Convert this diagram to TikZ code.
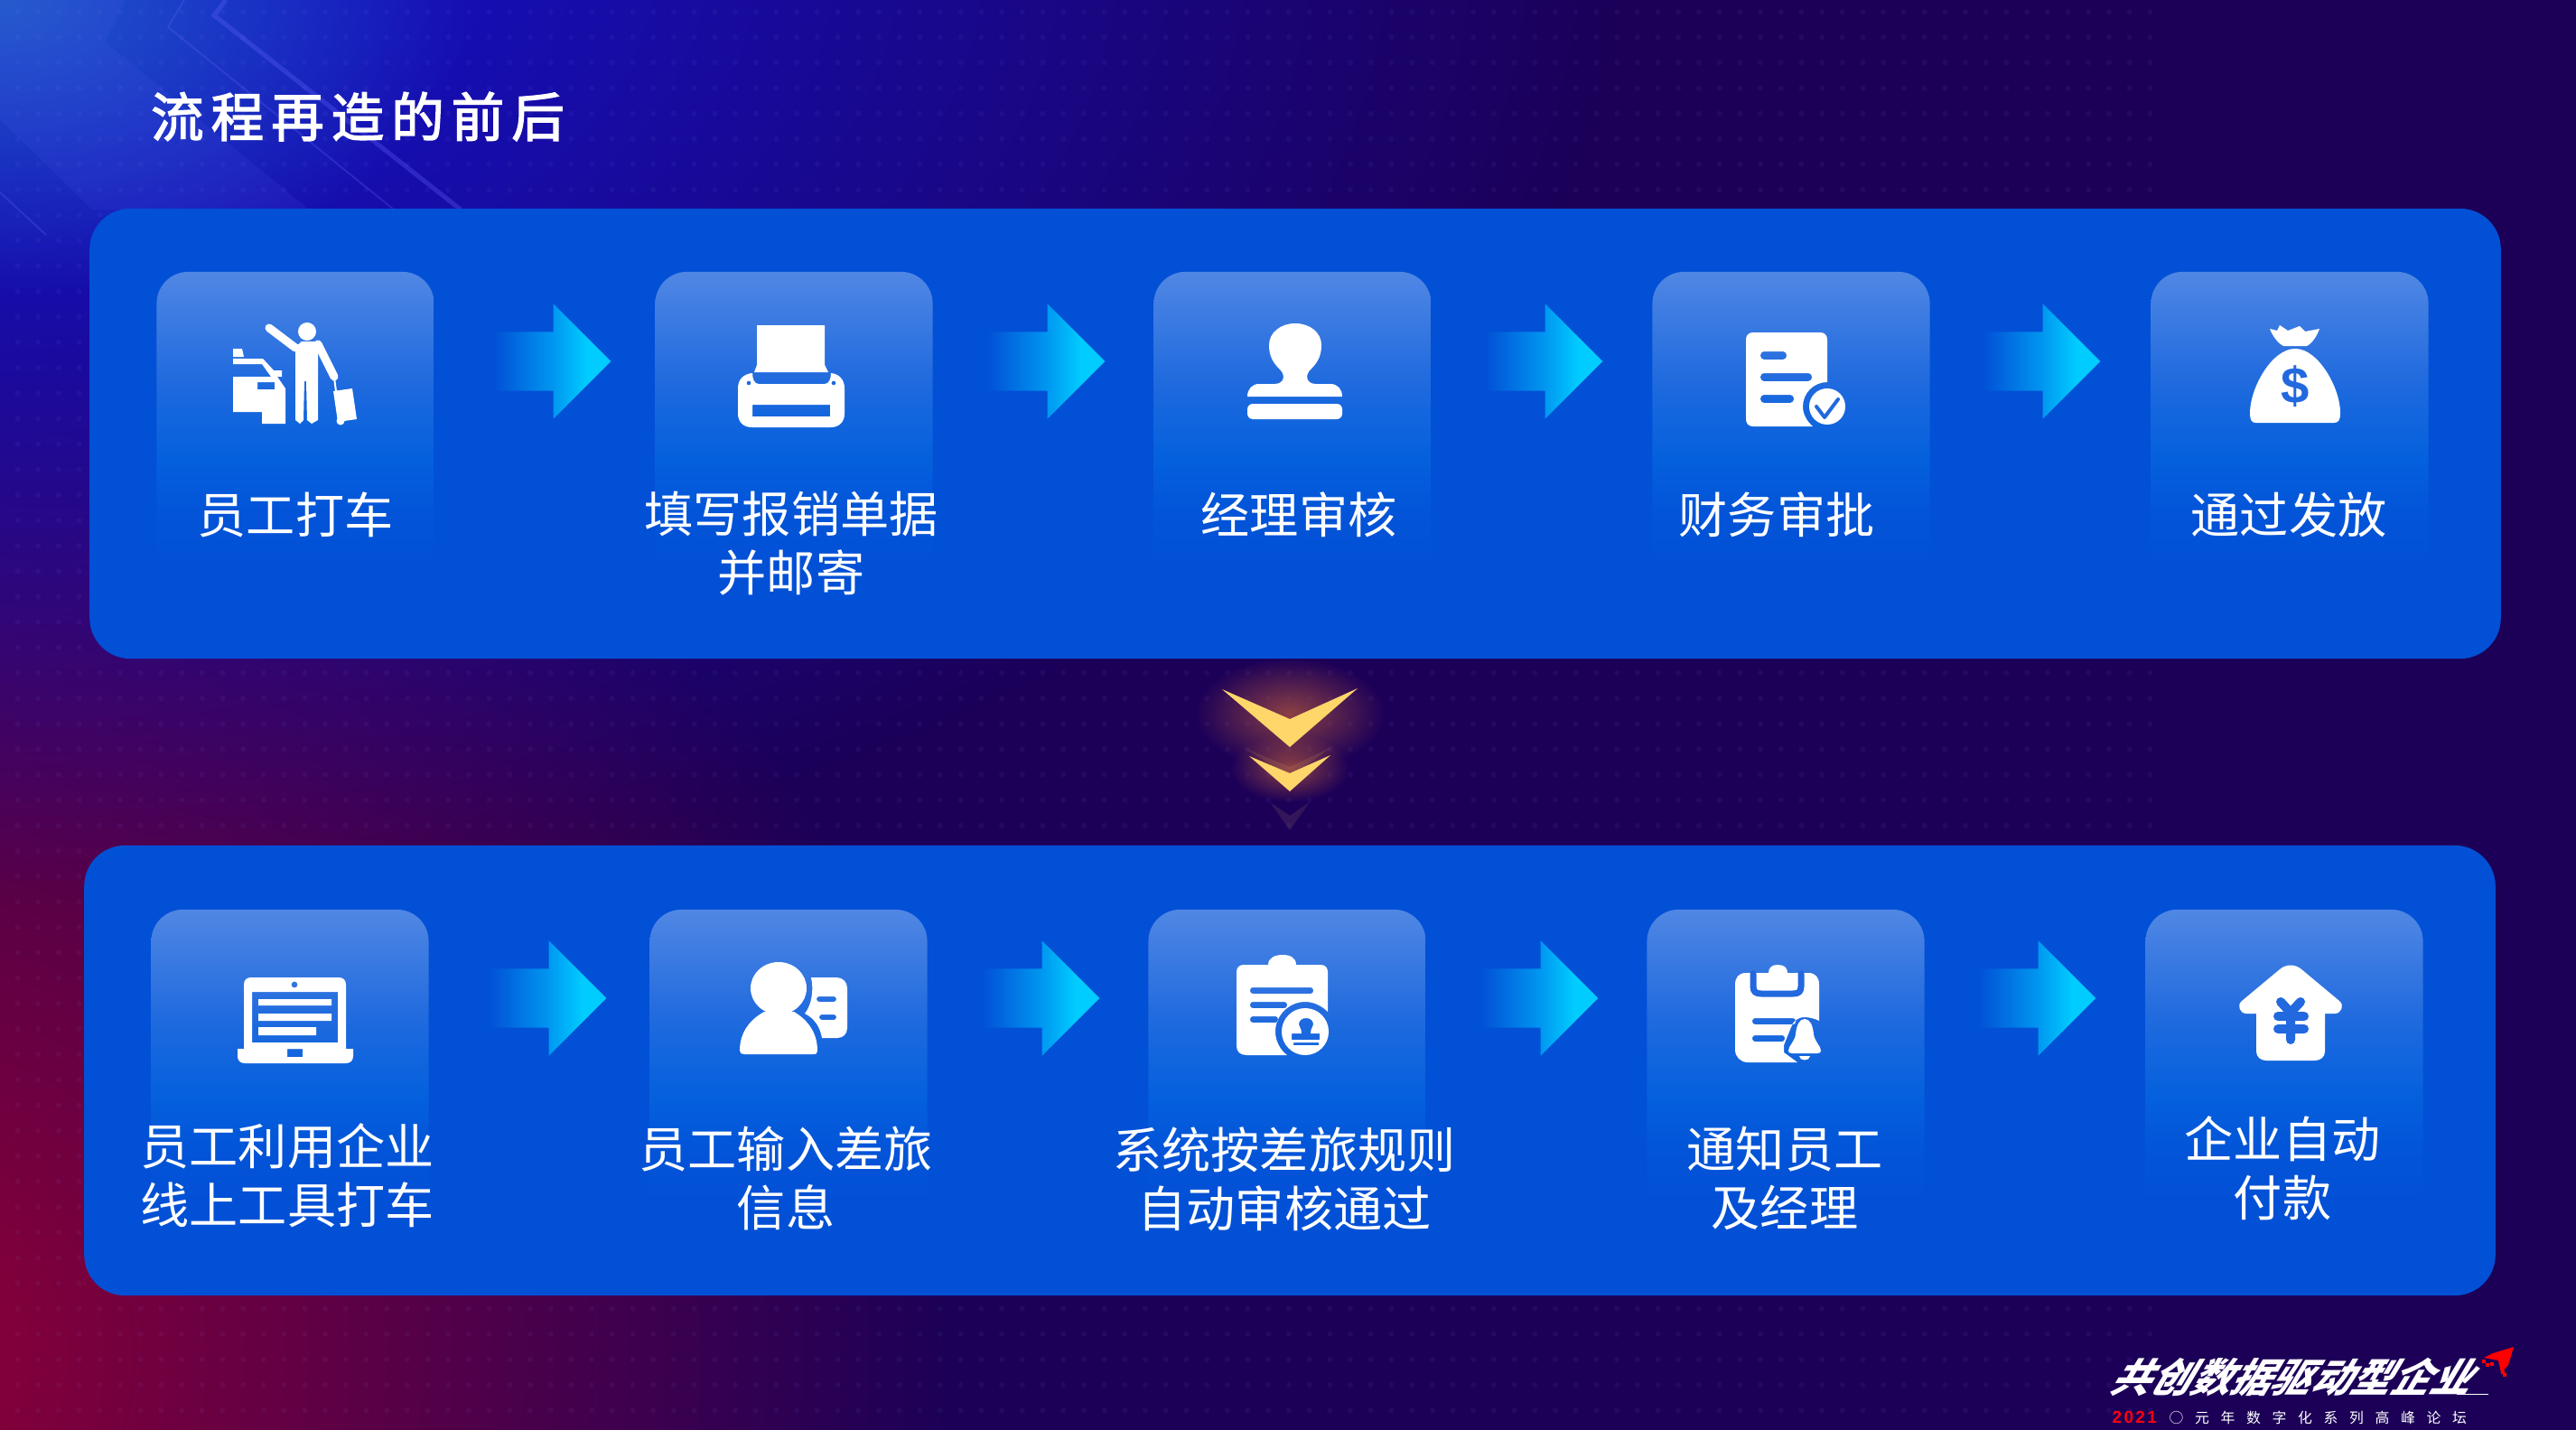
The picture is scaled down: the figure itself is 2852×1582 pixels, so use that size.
\documentclass[tikz,border=0pt]{standalone}
\usepackage{fontspec}
\usepackage{xcolor}
\usepackage{tikz}
\usetikzlibrary{shapes.arrows,fadings,positioning}
\setmainfont{Noto Sans CJK SC}
\newfontfamily\titlefont[LetterSpace=14,FakeBold=2.5]{Noto Sans CJK SC}
\newfontfamily\forumfont[LetterSpace=80]{Noto Sans CJK SC}
\newfontfamily\yearfont[LetterSpace=12]{Liberation Sans}

\definecolor{basepurple}{HTML}{1C0058}
\definecolor{glowred}{HTML}{8C0038}
\definecolor{glowblue}{HTML}{1414D7}
\definecolor{glowlight}{HTML}{205AC8}
\definecolor{glowamber}{HTML}{A85040}
\definecolor{yearred}{HTML}{FF0010}
\definecolor{panelblue}{HTML}{0250D6}
\definecolor{holeblue}{HTML}{2268DE}
\definecolor{cardtop}{HTML}{5087E4}
\definecolor{cardmid}{HTML}{1F6ADE}
\definecolor{cardlow}{HTML}{0460DD}
\definecolor{cardend}{HTML}{0354D8}
\definecolor{arrowmid}{HTML}{0096F0}
\definecolor{arrowcyan}{HTML}{00CCFF}
\definecolor{chevronyellow}{HTML}{FFD66A}

\pgfdeclareverticalshading{cardshade}{100bp}{color(0bp)=(panelblue); color(25bp)=(panelblue); color(30bp)=(panelblue); color(38bp)=(cardend); color(46bp)=(cardlow); color(58bp)=(cardmid); color(75bp)=(cardtop); color(100bp)=(cardtop)}
\pgfdeclarehorizontalshading{arrowshade}{100bp}{color(0bp)=(panelblue); color(25bp)=(panelblue); color(50bp)=(arrowmid); color(65bp)=(arrowcyan); color(75bp)=(arrowcyan); color(100bp)=(arrowcyan)}
\tikzfading[name=softblob,inner color=transparent!0,outer color=transparent!100]

\begin{document}
\begin{tikzpicture}[
		x = 0.01cm, y = -0.01cm,
		panel/.style = {rounded corners=.45cm, fill=panelblue, inner sep=0pt, minimum width=26.68cm, minimum height=4.98cm},
		card/.style = {rounded corners=.35cm, shade, shading=cardshade, inner sep=0pt, minimum width=3.07cm, minimum height=3.6cm},
		flowarrow/.style = {single arrow, shade, shading=arrowshade, inner xsep=0pt, inner ysep=.32cm, minimum height=1.3cm, single arrow head extend=.31cm},
		steptext/.style = {text=white, align=center, inner sep=0pt, font=\fontsize{15.4}{18.5}\selectfont},
		icon/.style = {fill=white, even odd rule},
		iconhole/.style = {draw=holeblue, line cap=round, line join=round},
		chevron/.style = {fill=chevronyellow},
		glow/.style = {fill=#1, path fading=softblob},
		griddot/.style = {fill=blue!40!white, opacity=.06},
	]

	\useasboundingbox (0,0) rectangle (2852,1582);

	% background
	\begin{scope}
		\clip (-10,-10) rectangle (2862,1592);
		\fill[basepurple] (-10,-10) rectangle (2862,1592);
		\fill[glow=glowred] (-100,1500) ellipse [x radius=1150,y radius=1200];
		\fill[glow=glowblue] (0,-50) ellipse [x radius=1800,y radius=1050];
		\fill[glow=glowlight] (0,0) ellipse [x radius=520,y radius=330];
		\fill[blue!60!white,opacity=.10] (0,0) -- (138,0) -- (117,47) -- (342,232) -- (102,232) -- (0,132) -- cycle;
		\draw[blue!60!white,opacity=.30,line width=.05cm] (250,0) -- (237,17) -- (510,232);
		\draw[blue!60!white,opacity=.25,line width=.02cm] (204,0) -- (186,30) -- (436,232);
		\draw[blue!60!white,opacity=.25,line width=.02cm] (0,213) -- (51,260);
		\foreach \r in {0,...,8,26,27,...,32,51,52,...,55}
			\fill[griddot] \foreach \c in {0,...,104} {(\c*22.7+19.5,\r*28.15+13) circle [radius=.03cm]};
		\foreach \r in {9,...,25,33,34,...,50}
			\fill[griddot] \foreach \c in {0,...,3} {(\c*22.7+19.5,\r*28.15+13) circle [radius=.03cm]};
	\end{scope}

	% title
	\node[text=white,inner sep=0pt,font=\titlefont\fontsize{16.6}{20}\selectfont] (title) at (396,129) {流程再造的前后};

	% panels, cards, arrows
	\node[panel] (panelA) at (1434,480) {};
	\node[panel] (panelB) at (1428,1185) {};

	\foreach \i/\x in {1/327,2/879,3/1431,4/1983,5/2535}
		\node[card] (cardA\i) at (\x,481) {};
	\foreach \i/\x in {1/321,2/873,3/1425,4/1977,5/2529}
		\node[card] (cardB\i) at (\x,1187) {};

	\foreach \i/\x in {1/595,2/1142,3/1693,4/2244}
		\node[flowarrow] (arrowA\i) at (\x,400) {};
	\foreach \i/\x in {1/590,2/1136,3/1688,4/2239}
		\node[flowarrow] (arrowB\i) at (\x,1105) {};

	% taxi
	\fill[icon] (340,367) circle [radius=.1cm];
	\fill[icon] (327,384) -- (334,378) -- (352,378) -- (352,465) -- (345,469) -- (340,465) -- (339,422) -- (337,422) -- (336,465) -- (332,469) -- (327,465) -- cycle;
	\draw[white,line width=.09cm,line cap=round] (298,363) -- (327,385);
	\draw[white,line width=.09cm,line cap=round] (352,381) -- (370,417);
	\draw[white,line width=.02cm] (370,418) -- (372,433);
	\fill[icon] (369,433) -- (390,430) -- (395,464) -- (374,467) -- cycle;
	\fill[icon] (377,466) circle [radius=.045cm];
	\fill[icon] (258,386) -- (268,386) -- (270,395) -- (258,395) -- cycle;
	\fill[icon] (258,397) -- (291,397) -- (303,410) -- (312,410) -- (312,417) -- (300,417) -- (290,403) -- (258,403) -- cycle;
	\fill[icon] (258,417) -- (307,417) -- (316,430) -- (316,469) -- (290,469) -- (290,456) -- (258,456) -- cycle (285,423) rectangle (304,431);

	% printer
	\fill[icon] (838,360) -- (913,360) -- (913,404) -- (917,412) -- (835,412) -- (838,404) -- cycle;
	\fill[icon] (833,413) .. controls (833,419) and (835,425) .. (840,425) -- (913,425) .. controls (918,425) and (920,419) .. (920,413) .. controls (929,414) and (935,420) .. (935,430) -- (935,458) .. controls (935,467) and (929,473) .. (920,473) -- (832,473) .. controls (823,473) and (817,467) .. (817,458) -- (817,430) .. controls (817,420) and (823,414) .. (833,413) -- cycle
		(833,448) rectangle (919,461) (829,424) circle [radius=.025cm] (923,424) circle [radius=.025cm];

	% stamp
	\fill[icon] (1381,439) .. controls (1381,431) and (1386,425) .. (1394,425) -- (1411,425) .. controls (1422,425) and (1424,415) .. (1416,408) .. controls (1408,400) and (1405,392) .. (1405,382) .. controls (1405,368) and (1418,358) .. (1434,358) .. controls (1450,358) and (1463,368) .. (1463,382) .. controls (1463,392) and (1460,400) .. (1452,408) .. controls (1444,415) and (1446,425) .. (1457,425) -- (1473,425) .. controls (1481,425) and (1486,431) .. (1486,439) -- cycle;
	\fill[icon,rounded corners=.06cm] (1381,447) rectangle (1486,464);

	% report with tick
	\fill[icon] (1941,368) -- (2015,368) .. controls (2020,368) and (2023,371) .. (2023,376) -- (2023,423) .. controls (2008,423) and (1996,435) .. (1996,450) .. controls (1996,458) and (2000,466) .. (2007,472) -- (1941,472) .. controls (1936,472) and (1933,469) .. (1933,464) -- (1933,376) .. controls (1933,371) and (1936,368) .. (1941,368) -- cycle
		[rounded corners=.04cm] (1949,389) rectangle (1978,398) (1949,413) rectangle (2006,422) (1949,437) rectangle (1986,446);
	\fill[icon] (2023,450) circle [radius=.2cm];
	\draw[iconhole,line width=.04cm] (2011,450) -- (2020,462) -- (2035,442);

	% money bag
	\fill[icon] (2513,364) -- (2521,366) -- (2524,360) -- (2533,366) -- (2546,361) -- (2552,367) -- (2568,364) .. controls (2565,372) and (2560,380) .. (2554,383) -- (2528,383) .. controls (2522,380) and (2516,372) .. (2513,364) -- cycle;
	\fill[icon] (2541,386) .. controls (2515,386) and (2491,430) .. (2491,457) .. controls (2491,465) and (2493,468) .. (2497,468) -- (2584,468) .. controls (2589,468) and (2591,465) .. (2591,457) .. controls (2591,430) and (2567,386) .. (2541,386) -- cycle;
	\node[text=holeblue,inner sep=0pt,font=\yearfont\bfseries\fontsize{16}{16}\selectfont] (dollar) at (2541,428) {\$};

	% laptop
	\fill[icon] (278,1082) -- (375,1082) .. controls (380,1082) and (383,1085) .. (383,1090) -- (383,1161) -- (270,1161) -- (270,1090) .. controls (270,1085) and (273,1082) .. (278,1082) -- cycle
		(326,1090) circle [radius=.035cm] (279,1098) rectangle (374,1154);
	\fill[icon] (286,1106) rectangle (367,1113) (286,1122) rectangle (367,1130) (286,1137) rectangle (350,1146);
	\fill[icon] (263,1161) -- (391,1161) -- (391,1169) .. controls (391,1174) and (388,1177) .. (383,1177) -- (271,1177) .. controls (266,1177) and (263,1174) .. (263,1169) -- cycle (318,1161) rectangle (335,1170);

	% person with card
	\fill[icon] (862,1094) ellipse [x radius=31,y radius=29];
	\fill[icon] (846,1120) .. controls (828,1130) and (819,1145) .. (819,1163) .. controls (819,1166) and (821,1167) .. (824,1167) -- (900,1167) .. controls (904,1167) and (905,1166) .. (905,1163) .. controls (905,1145) and (896,1130) .. (879,1120) -- cycle;
	\fill[icon] (898,1082) -- (926,1082) .. controls (933,1082) and (938,1087) .. (938,1094) -- (938,1138) .. controls (938,1145) and (933,1149) .. (927,1149) -- (910,1149) .. controls (908,1138) and (903,1128) .. (891,1122) .. controls (899,1112) and (901,1095) .. (898,1082) -- cycle
		[rounded corners=.03cm] (904,1103) rectangle (926,1109) (907,1123) rectangle (926,1129);

	% clipboard with stamp
	\fill[icon] (1470,1120) .. controls (1463,1113) and (1454,1109) .. (1445,1109) .. controls (1427,1109) and (1412,1124) .. (1412,1142) .. controls (1412,1152) and (1417,1162) .. (1425,1168) -- (1380,1168) .. controls (1373,1168) and (1369,1164) .. (1369,1158) -- (1369,1076) .. controls (1369,1071) and (1372,1068) .. (1377,1068) -- (1404,1068) .. controls (1404,1060) and (1412,1057) .. (1420,1057) .. controls (1428,1057) and (1435,1060) .. (1435,1068) -- (1462,1068) .. controls (1467,1068) and (1470,1071) .. (1470,1076) -- cycle
		[rounded corners=.03cm] (1384,1093) rectangle (1454,1100) (1384,1109) rectangle (1425,1116) (1384,1125) rectangle (1415,1132);
	\fill[icon] (1445,1142) circle [radius=.26cm]
		(1446,1127) .. controls (1441,1127) and (1438,1130) .. (1438,1134) .. controls (1438,1137) and (1441,1138) .. (1441,1144) -- (1430,1144) -- (1430,1151) -- (1461,1151) -- (1461,1144) -- (1451,1144) .. controls (1451,1138) and (1454,1137) .. (1454,1134) .. controls (1454,1130) and (1451,1127) .. (1446,1127) -- cycle
		(1432,1154) rectangle (1460,1157);

	% clipboard with bell
	\fill[icon] (2014,1130) .. controls (2010,1128) and (2004,1126) .. (1998,1126) .. controls (1990,1126) and (1985,1131) .. (1983,1137) -- (1975,1157) -- (1975,1165) -- (1990,1176) -- (1935,1176) .. controls (1927,1176) and (1921,1170) .. (1921,1162) -- (1921,1090) .. controls (1921,1082) and (1925,1077) .. (1933,1077) -- (1958,1077) .. controls (1958,1071) and (1962,1068) .. (1968,1068) .. controls (1975,1068) and (1979,1071) .. (1979,1077) -- (2002,1077) .. controls (2010,1077) and (2014,1082) .. (2014,1090) -- cycle
		[rounded corners=.03cm] (1940,1127) rectangle (1988,1134) (1940,1146) rectangle (1976,1153);
	\draw[iconhole,line width=.07cm] (1941,1078) -- (1941,1092) .. controls (1941,1098) and (1944,1100) .. (1950,1100) -- (1985,1100) .. controls (1991,1100) and (1994,1098) .. (1994,1092) -- (1994,1078);
	\fill[icon] (1998,1128) .. controls (2004,1128) and (2007,1135) .. (2008,1145) .. controls (2009,1153) and (2016,1158) .. (2016,1163) .. controls (2016,1165) and (2015,1166) .. (2012,1166) -- (1984,1166) .. controls (1981,1166) and (1980,1165) .. (1980,1163) .. controls (1980,1158) and (1987,1153) .. (1988,1145) .. controls (1989,1135) and (1992,1128) .. (1998,1128) -- cycle;
	\fill[icon] (1992,1169) .. controls (1992,1175) and (2004,1175) .. (2004,1169) -- cycle;

	% house with yen sign
	\fill[icon] (2524,1073) .. controls (2531,1067) and (2541,1067) .. (2548,1073) -- (2590,1108) .. controls (2596,1113) and (2592,1122) .. (2585,1122) -- (2574,1122) -- (2574,1164) .. controls (2574,1170) and (2569,1174) .. (2563,1174) -- (2509,1174) .. controls (2503,1174) and (2498,1170) .. (2498,1164) -- (2498,1122) -- (2487,1122) .. controls (2480,1122) and (2476,1113) .. (2482,1108) -- cycle;
	\draw[iconhole,line width=.1cm] (2525,1109) -- (2536,1121) -- (2547,1109) (2522,1125) -- (2551,1125) (2522,1139) -- (2551,1139) (2536,1121) -- (2536,1151);

	% step labels
	\node[steptext] (stepA1) at (327,570) {员工打车};
	\node[steptext] (stepA2) at (876,602) {填写报销单据\\并邮寄};
	\node[steptext] (stepA3) at (1438,570) {经理审核};
	\node[steptext] (stepA4) at (1967,570) {财务审批};
	\node[steptext] (stepA5) at (2534,570) {通过发放};
	\node[steptext] (stepB1) at (318,1301) {员工利用企业\\线上工具打车};
	\node[steptext] (stepB2) at (870,1304) {员工输入差旅\\信息};
	\node[steptext] (stepB3) at (1422,1305) {系统按差旅规则\\自动审核通过};
	\node[steptext] (stepB4) at (1976,1304) {通知员工\\及经理};
	\node[steptext] (stepB5) at (2527,1293) {企业自动\\付款};

	% chevrons
	\fill[glow=glowamber,opacity=.8] (1428,790) ellipse [x radius=105,y radius=62];
	\fill[glow=glowamber,opacity=.8] (1428,850) ellipse [x radius=66,y radius=38];
	\fill[chevronyellow,opacity=.10] (1378,828) -- (1428,849) -- (1476,826) -- (1428,860) -- cycle;
	\fill[chevron] (1353,763) -- (1428,796) -- (1503,762) -- (1428,827) -- cycle;
	\fill[chevron] (1383,837) -- (1428,856) -- (1473,836) -- (1428,876) -- cycle;
	\fill[chevronyellow,opacity=.10] (1406,888) -- (1428,903) -- (1450,888) -- (1428,919) -- cycle;

	% forum mark
	\node[text=white,inner sep=0pt,xslant=.6,transform shape,font=\bfseries\fontsize{12.6}{14}\selectfont] (forum) at (2544,1525) {共创数据驱动型企业};
	\draw[white,line width=.01cm] (2720,1543) -- (2755,1543);
	\fill[red] (2783,1491) -- (2760,1498) -- (2750,1503) -- (2766,1506) -- (2769,1520) -- (2777,1511) -- cycle;
	\foreach \x/\y in {2748/1505,2752/1509,2757/1508,2769/1517,2771/1520}
		\fill[red] (\x,\y) rectangle +(3.5,3.5);
	\node[text=yearred,inner sep=0pt,anchor=west,font=\yearfont\bfseries\fontsize{5.4}{6}\selectfont] (year) at (2338,1569) {2021};
	\node[text=white,inner sep=0pt,anchor=west,font=\forumfont\fontsize{4.5}{6}\selectfont] (series) at (2401,1569) {○元年数字化系列高峰论坛};
\end{tikzpicture}
\end{document}
